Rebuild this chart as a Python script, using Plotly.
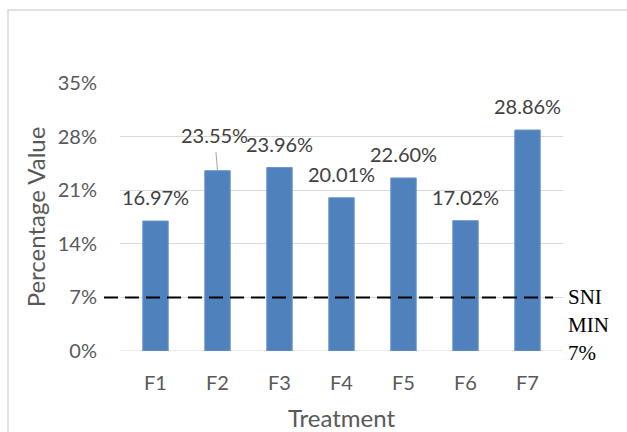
import plotly.graph_objects as go

# Dry matter content per treatment, percent
treatments = ["F1", "F2", "F3", "F4", "F5", "F6", "F7"]
values = [16.97, 23.55, 23.96, 20.01, 22.60, 17.02, 28.86]
y_ticks = [0, 7, 14, 21, 28, 35]
y_tick_text = ["0%", "7%", "14%", "21%", "28%", "35%"]
sni_min = 7
sni_lines = ["SNI", "MIN", "7%"]

W, H = 627, 432
L, R, T, B = 120, 64, 83, 81
plot_w = W - L - R
plot_h = H - T - B

def px_x(p):
    return (p - L) / plot_w

def px_y(p):
    return (H - B - p) / plot_h

sans = "Lato"
fig = go.Figure()
fig.add_trace(go.Bar(
    x=treatments, y=values,
    marker=dict(color="#4f81bd", line=dict(color="#6a96cc", width=1)),
    hoverinfo="skip",
))

# value labels above the bars
for i, (t, v) in enumerate(zip(treatments, values)):
    if t == "F2":
        fig.add_annotation(
            x=t, y=v, text=f"{v:.2f}%", showarrow=True, arrowhead=0,
            arrowwidth=1, arrowcolor="#a6a6a6", ax=-3, ay=-36,
            startstandoff=4,
            font=dict(family=sans, size=20, color="#404040"),
        )
    else:
        fig.add_annotation(
            x=t, y=v, text=f"{v:.2f}%", showarrow=False, yshift=24,
            font=dict(family=sans, size=20, color="#404040"),
        )

# minimum standard reference line
fig.add_shape(type="line", xref="paper", yref="y",
              x0=px_x(104), x1=px_x(553), y0=sni_min, y1=sni_min,
              line=dict(color="black", width=2, dash="14px,7px"))
for k, s in enumerate(sni_lines):
    fig.add_annotation(
        xref="paper", yref="y", x=px_x(566), y=sni_min, yshift=-28 * k,
        text=s, showarrow=False, xanchor="left",
        font=dict(family="Liberation Serif", size=21, color="black"),
    )

# chart border
fig.add_shape(type="rect", xref="paper", yref="paper",
              x0=px_x(8), x1=px_x(700), y0=px_y(10), y1=px_y(500),
              line=dict(color="#d9d9d9", width=1.5), layer="below")

fig.update_layout(
    width=W, height=H,
    margin=dict(l=L, r=R, t=T, b=B, autoexpand=False),
    paper_bgcolor="white", plot_bgcolor="white",
    bargap=0.59, showlegend=False,
    xaxis=dict(
        showgrid=False, showline=False, zeroline=False, ticks="",
        tickfont=dict(family=sans, size=20, color="#595959"),
        ticklabelstandoff=18,
        title=dict(text="Treatment", standoff=17,
                   font=dict(family=sans, size=24, color="#595959")),
    ),
    yaxis=dict(
        range=[0, 35], tickvals=y_ticks, ticktext=y_tick_text,
        showgrid=True, gridcolor="#d9d9d9", gridwidth=1,
        zeroline=False, showline=False, ticks="",
        tickfont=dict(family=sans, size=20, color="#595959"),
        ticklabelstandoff=22,
        title=dict(text="Percentage Value", standoff=5,
                   font=dict(family=sans, size=24, color="#595959")),
    ),
)
fig.add_hline(y=0, line=dict(color="#d9d9d9", width=1), layer="below")

fig.write_html("out.html")
